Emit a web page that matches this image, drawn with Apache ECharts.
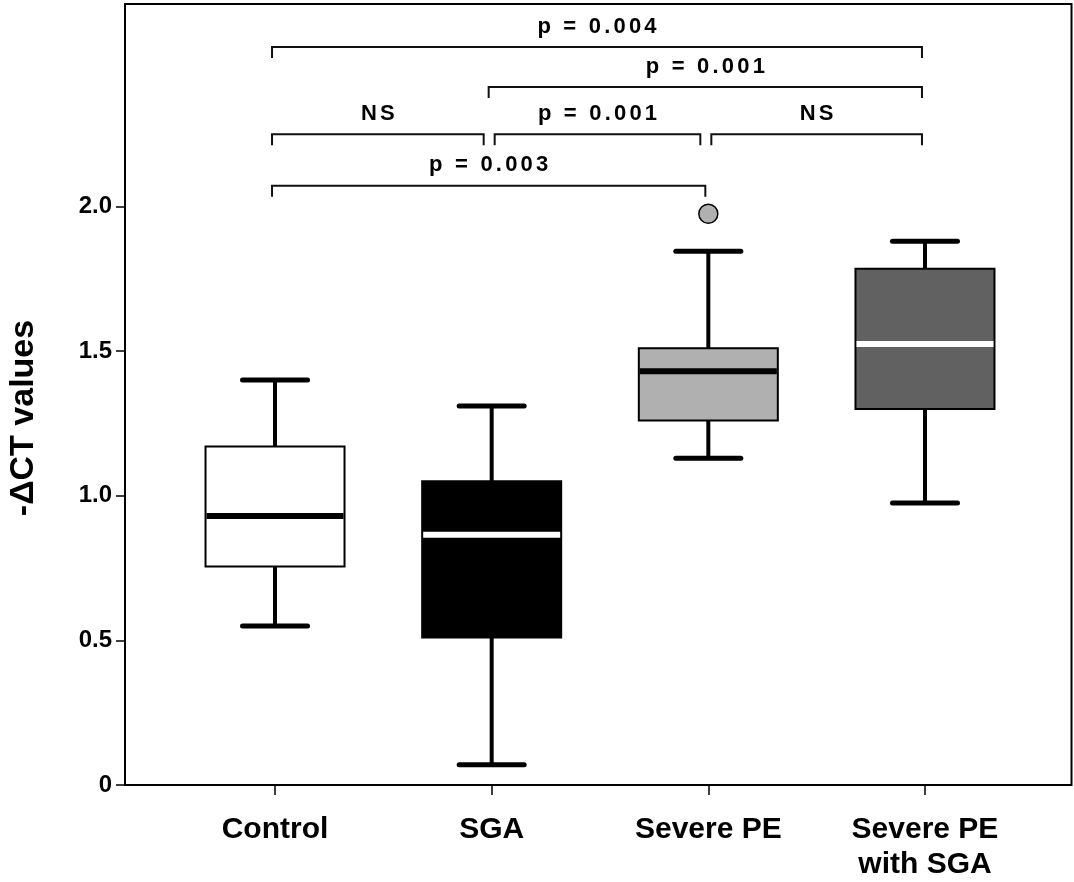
<!DOCTYPE html>
<html>
<head>
<meta charset="utf-8">
<script src="https://cdn.jsdelivr.net/npm/echarts@6/dist/echarts.min.js"></script>
<style>html,body{margin:0;padding:0;background:#fff}#c{width:1074px;height:882px}</style>
</head>
<body>
<div id="c"></div>
<script>
// ---- data ----
const categories = ['Control', 'SGA', 'Severe PE', 'Severe PE\nwith SGA'];
// [low whisker, Q1, median, Q3, high whisker]
const controlBox = [0.55, 0.755, 0.93, 1.17, 1.40];
const sgaBox = [0.07, 0.51, 0.865, 1.05, 1.31];
const severePEBox = [1.13, 1.26, 1.43, 1.51, 1.845];
const severePESGABox = [0.975, 1.30, 1.525, 1.785, 1.88];
const outliers = [[2, 1.975]];
const yTickValues = [0, 0.5, 1.0, 1.5, 2.0];
const yAxisTitle = '-\u0394CT values';
// significance brackets: from category, to category, level, label
const bracketFrom = [0, 1, 0, 1, 2, 0];
const bracketTo = [3, 3, 1, 2, 3, 2];
const bracketLevel = [2.551, 2.413, 2.250, 2.250, 2.250, 2.072];
const bracketLabel = ['p = 0.004', 'p = 0.001', 'NS', 'p = 0.001', 'NS', 'p = 0.003'];

// ---- styles ----
const boxFill = ['#ffffff', '#000000', '#b0b0b0', '#616161'];
const medianColor = ['#000000', '#ffffff', '#000000', '#ffffff'];
const FONT = '"Liberation Sans", Arial, Helvetica, sans-serif';
const BRACKET_FONT = 'bold 22px ' + FONT;
const BRACKET_SPACING = 3.2;

const boxes = [controlBox, sgaBox, severePEBox, severePESGABox].map((b, i) => [i].concat(b));
const brackets = bracketFrom.map((f, i) => [f, bracketTo[i], bracketLevel[i]]);

const measureCtx = document.createElement('canvas').getContext('2d');
measureCtx.font = BRACKET_FONT;

function spacedText(str, cx, cy) {
  const ws = Array.from(str).map(ch => measureCtx.measureText(ch).width);
  const total = ws.reduce((a, b) => a + b, 0) + BRACKET_SPACING * (ws.length - 1);
  let x = cx - total / 2;
  const out = [];
  Array.from(str).forEach((ch, k) => {
    if (ch !== ' ') {
      out.push({type: 'text', x: x, y: cy,
        style: {text: ch, fill: '#000', font: BRACKET_FONT, textAlign: 'left', textVerticalAlign: 'middle'}});
    }
    x += ws[k] + BRACKET_SPACING;
  });
  return out;
}

const chart = echarts.init(document.getElementById('c'), null, {renderer: 'canvas'});

function renderBox(params, api) {
  const idx = api.value(0);
  const lo = api.coord([idx, api.value(1)]);
  const q1 = api.coord([idx, api.value(2)]);
  const med = api.coord([idx, api.value(3)]);
  const q3 = api.coord([idx, api.value(4)]);
  const hi = api.coord([idx, api.value(5)]);
  const cx = lo[0];
  const bw = 141, cw = 32.5;
  const stroke = {stroke: '#000', lineWidth: 4};
  return {
    type: 'group',
    children: [
      {type: 'line', shape: {x1: cx, y1: hi[1], x2: cx, y2: q3[1]}, style: stroke},
      {type: 'line', shape: {x1: cx, y1: q1[1], x2: cx, y2: lo[1]}, style: stroke},
      {type: 'rect', shape: {x: cx - bw / 2 + 1, y: q3[1], width: bw - 2, height: q1[1] - q3[1]},
        style: {fill: boxFill[idx], stroke: '#000', lineWidth: 2}},
      {type: 'line', shape: {x1: cx - bw / 2 + 2, y1: med[1], x2: cx + bw / 2 - 2, y2: med[1]},
        style: {stroke: medianColor[idx], lineWidth: 6}},
      {type: 'line', shape: {x1: cx - cw, y1: hi[1], x2: cx + cw, y2: hi[1]},
        style: {stroke: '#000', lineWidth: 5, lineCap: 'round'}},
      {type: 'line', shape: {x1: cx - cw, y1: lo[1], x2: cx + cw, y2: lo[1]},
        style: {stroke: '#000', lineWidth: 5, lineCap: 'round'}}
    ]
  };
}

function renderBracket(params, api) {
  const i = params.dataIndex;
  const f = api.value(0), t = api.value(1), lv = api.value(2);
  const a = api.coord([f, lv]);
  const b = api.coord([t, lv]);
  let offL = -3, offR = -3;
  brackets.forEach((o, j) => {
    if (j === i || o[2] !== lv) return;
    if (o[1] === f) offL = 3;
    if (o[0] === t) offR = -8;
  });
  const x1 = a[0] + offL, x2 = b[0] + offR, y = a[1];
  return {
    type: 'group',
    children: [
      {type: 'polyline', shape: {points: [[x1, y + 11], [x1, y], [x2, y], [x2, y + 11]]},
        style: {stroke: '#111', lineWidth: 2, fill: null}}
    ].concat(spacedText(bracketLabel[i], (x1 + x2) / 2, y - 20.5))
  };
}

chart.setOption({
  animation: false,
  backgroundColor: '#fff',
  grid: [
    {left: 125, right: 2.5, top: 4, bottom: 97, show: true, borderColor: '#000', borderWidth: 2, backgroundColor: 'transparent'},
    {left: 166.7, right: 40.7, top: 4, bottom: 97}
  ],
  graphic: [
    {type: 'text', x: 24, y: 418, rotation: Math.PI / 2,
      style: {text: yAxisTitle, fill: '#000', font: 'bold 34px ' + FONT, textAlign: 'center', textVerticalAlign: 'middle'}}
  ],
  xAxis: [
    {type: 'value', gridIndex: 0, min: 0, max: 1, show: false},
    {type: 'category', gridIndex: 1, data: categories, boundaryGap: true,
      axisLine: {show: false},
      axisTick: {show: true, alignWithLabel: true, length: 10, lineStyle: {color: '#000', width: 1.5}},
      axisLabel: {color: '#000', fontSize: 30, fontWeight: 'bold', fontFamily: FONT, lineHeight: 35, margin: 27, interval: 0},
      splitLine: {show: false}}
  ],
  yAxis: [
    {type: 'value', gridIndex: 0, min: 0, max: 2.7, interval: 0.5,
      axisLine: {show: true, lineStyle: {color: '#000', width: 2}},
      axisTick: {show: true, length: 9, customValues: yTickValues, lineStyle: {color: '#000', width: 1.5}},
      axisLabel: {color: '#000', fontSize: 24, fontWeight: 'bold', fontFamily: FONT, margin: 13,
        customValues: yTickValues,
        formatter: v => (v === 0 ? '0' : v.toFixed(1))},
      splitLine: {show: false}},
    {type: 'value', gridIndex: 1, min: 0, max: 2.7, show: false}
  ],
  series: [
    {type: 'custom', xAxisIndex: 1, yAxisIndex: 1, renderItem: renderBox, data: boxes, z: 3},
    {type: 'scatter', xAxisIndex: 1, yAxisIndex: 1, data: outliers, symbol: 'circle', symbolSize: 19,
      itemStyle: {color: '#b0b0b0', borderColor: '#000', borderWidth: 1.5, opacity: 1}, z: 4},
    {type: 'custom', xAxisIndex: 1, yAxisIndex: 1, renderItem: renderBracket, data: brackets, z: 5}
  ]
});
</script>
</body>
</html>
